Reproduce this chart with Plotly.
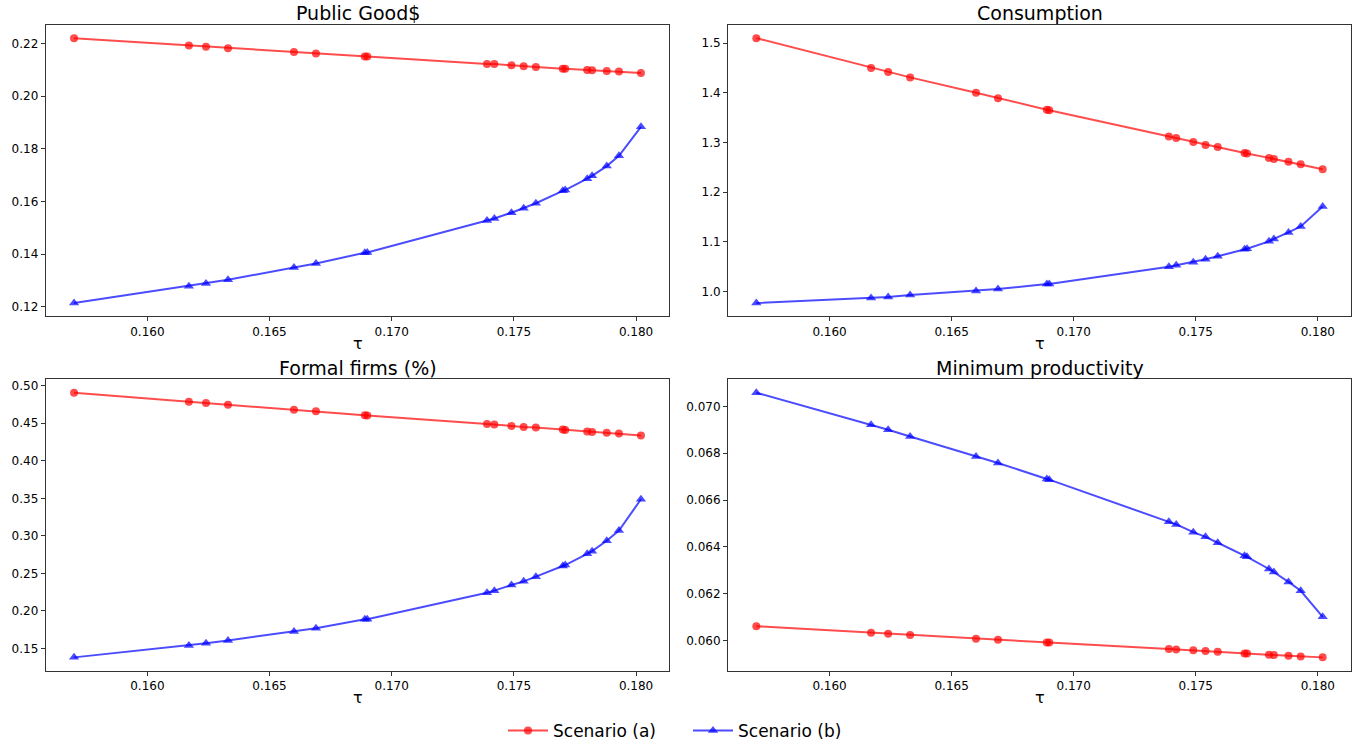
import plotly.graph_objects as go

tau = [0.1570, 0.1617, 0.1624, 0.1633, 0.1660, 0.1669, 0.1689, 0.1690, 0.1739, 0.1742,
       0.1749, 0.1754, 0.1759, 0.1770, 0.1771, 0.1780, 0.1782, 0.1788, 0.1793, 0.1802]

pg_a = [0.2220, 0.2192, 0.2187, 0.2182, 0.2167, 0.2162, 0.2150, 0.2150, 0.2122, 0.2122,
        0.2117, 0.2113, 0.2110, 0.2104, 0.2104, 0.2099, 0.2098, 0.2095, 0.2093, 0.2088]
pg_b = [0.1214, 0.1278, 0.1288, 0.1302, 0.1349, 0.1364, 0.1405, 0.1406, 0.1527, 0.1535,
        0.1557, 0.1574, 0.1593, 0.1640, 0.1643, 0.1686, 0.1697, 0.1734, 0.1773, 0.1883]

cons_a = [1.510, 1.450, 1.442, 1.431, 1.400, 1.389, 1.366, 1.365, 1.312, 1.309,
          1.301, 1.295, 1.291, 1.279, 1.278, 1.269, 1.267, 1.261, 1.256, 1.246]
cons_b = [0.977, 0.987, 0.989, 0.993, 1.001, 1.005, 1.015, 1.015, 1.050, 1.053,
          1.059, 1.065, 1.071, 1.085, 1.086, 1.101, 1.106, 1.119, 1.131, 1.171]

ff_a = [0.4907, 0.4788, 0.4770, 0.4748, 0.4681, 0.4659, 0.4606, 0.4602, 0.4491, 0.4482,
        0.4464, 0.4451, 0.4442, 0.4416, 0.4411, 0.4389, 0.4385, 0.4372, 0.4363, 0.4336]
ff_b = [0.1381, 0.1540, 0.1570, 0.1606, 0.1725, 0.1770, 0.1889, 0.1890, 0.2243, 0.2270,
        0.2345, 0.2394, 0.2456, 0.2597, 0.2611, 0.2761, 0.2796, 0.2934, 0.3070, 0.3487]

mp_a = [0.06062, 0.06034, 0.06030, 0.06024, 0.06008, 0.06004, 0.05992, 0.05992, 0.05965, 0.05963,
        0.05959, 0.05956, 0.05953, 0.05946, 0.05946, 0.05940, 0.05939, 0.05936, 0.05933, 0.05929]
mp_b = [0.07058, 0.06921, 0.06900, 0.06871, 0.06786, 0.06758, 0.06690, 0.06687, 0.06507, 0.06496,
        0.06463, 0.06443, 0.06418, 0.06363, 0.06358, 0.06306, 0.06293, 0.06251, 0.06213, 0.06102]

titles = ["Public Good$", "Consumption", "Formal firms (%)", "Minimum productivity"]
series = [(pg_a, pg_b), (cons_a, cons_b), (ff_a, ff_b), (mp_a, mp_b)]
ydtick = [0.02, 0.1, 0.05, 0.002]
yfmt = [".2f", ".1f", ".2f", ".3f"]
xticks = [0.160, 0.165, 0.170, 0.175, 0.180]
legend_names = ["Scenario (a)", "Scenario (b)"]

W, H = 1354, 749
FONT = "DejaVu Sans"
# axes boxes in pixels: (left, right, top, bottom)
boxes = [(45.7, 669.3, 25, 317.5), (728, 1351, 25, 317.5),
         (45.7, 669.3, 381, 673.3), (728, 1351, 381, 673.3)]

fig = go.Figure()
xmin, xmax = min(tau), max(tau)
xpad = 0.05 * (xmax - xmin)

for i, (title, (ya, yb)) in enumerate(zip(titles, series)):
    n = i + 1
    xa = "x" if n == 1 else f"x{n}"
    yax = "y" if n == 1 else f"y{n}"
    fig.add_trace(go.Scatter(
        x=tau, y=ya, mode="lines+markers", name=legend_names[0], showlegend=(i == 0),
        line=dict(color="rgba(255,0,0,0.7)", width=2),
        marker=dict(symbol="circle", size=8, color="rgba(255,0,0,0.7)", line=dict(width=0)),
        xaxis=xa, yaxis=yax))
    fig.add_trace(go.Scatter(
        x=tau, y=yb, mode="lines+markers", name=legend_names[1], showlegend=(i == 0),
        line=dict(color="rgba(0,0,255,0.7)", width=2),
        marker=dict(symbol="triangle-up", size=9, color="rgba(0,0,255,0.7)", line=dict(width=0)),
        xaxis=xa, yaxis=yax))

    l, r, t, b = boxes[i]
    allv = list(ya) + list(yb)
    ymin, ymax = min(allv), max(allv)
    ypad = 0.05 * (ymax - ymin)
    axis_common = dict(showline=True, mirror=True, linecolor="#333333", linewidth=1,
                       ticks="outside", ticklen=4, tickcolor="#333333", showgrid=False,
                       zeroline=False, tickfont=dict(family=FONT, size=12, color="black"))
    fig.layout[f"xaxis{'' if n == 1 else n}"] = dict(
        domain=[l / W, r / W], anchor=yax, range=[xmin - xpad, xmax + xpad],
        tickvals=xticks, tickformat=".3f", **axis_common)
    fig.layout[f"yaxis{'' if n == 1 else n}"] = dict(
        domain=[1 - b / H, 1 - t / H], anchor=xa, range=[ymin - ypad, ymax + ypad],
        dtick=ydtick[i], tickformat=yfmt[i], **axis_common)

    cx = (l + r) / 2 / W
    fig.add_annotation(text=title, x=cx, y=1 - (t - 12) / H, xref="paper", yref="paper",
                       showarrow=False, xanchor="center", yanchor="middle",
                       font=dict(family=FONT, size=19, color="black"))
    fig.add_annotation(text="τ", x=cx, y=1 - (b + 27) / H, xref="paper", yref="paper",
                       showarrow=False, xanchor="center", yanchor="middle",
                       font=dict(family=FONT, size=16, color="black"))

fig.update_layout(
    width=W, height=H, margin=dict(l=0, r=0, t=0, b=0),
    paper_bgcolor="white", plot_bgcolor="white",
    font=dict(family=FONT, color="black"),
    showlegend=True,
    legend=dict(orientation="h", x=688 / W, xanchor="center",
                y=1 - 734 / H, yanchor="middle",
                font=dict(family=FONT, size=17, color="black"), itemwidth=40,
                entrywidth=130, entrywidthmode="pixels",
                bgcolor="rgba(0,0,0,0)"),
)

fig.write_html("out.html", config={"displayModeBar": False},
               post_script="document.body.style.margin='0';document.body.style.overflow='hidden';")
